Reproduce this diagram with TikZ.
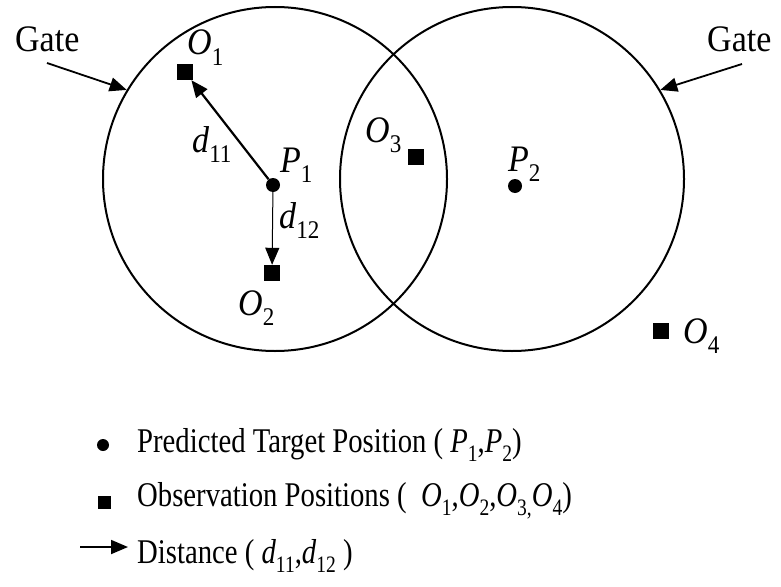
\documentclass[tikz,border=0pt]{standalone}
\usepackage{fontspec}
\setmainfont{Liberation Serif}
\usetikzlibrary{positioning, arrows.meta}
\newcommand{\lowsub}[1]{\raisebox{-0.28em}{\scalebox{0.68}{#1}}}
\newcommand{\sym}[2]{\textit{#1}\lowsub{#2}}
\newcommand{\narrow}[1]{\scalebox{0.87}[1.05]{#1}}
\newcommand{\tall}[1]{\scalebox{1}[1.1]{#1}}

\begin{document}
\begin{tikzpicture}[
    x=1pt, y=-1pt,
    >={Triangle[length=17pt, width=14pt]},
    gate/.style={draw, circle, line width=2pt, minimum size=344pt, inner sep=0pt},
    predDot/.style={fill, circle, minimum size=14pt, inner sep=0pt},
    obsBox/.style={fill, rectangle, minimum size=16pt, inner sep=0pt},
    symLabel/.style={anchor=base west, inner sep=0pt, font=\fontsize{34}{40}\selectfont},
    legendText/.style={anchor=base west, inner sep=0pt, font=\fontsize{33}{40}\selectfont}
]
\useasboundingbox (0,0) rectangle (781,586);

% the two gates
\node[gate] (leftGate) at (275,179) {};
\node[gate] (rightGate) at (512,179) {};

% predicted positions and observations
\node[predDot] (p1) at (273,185) {};
\node[predDot] (p2) at (515,186) {};
\node[obsBox] (o1) at (185,72) {};
\node[obsBox] (o2) at (272,273) {};
\node[obsBox] (o3) at (416,157) {};
\node[obsBox] (o4) at (661,331) {};

\node[symLabel] (o1Text) at (187,55) {\tall{\sym{O}{1}}};
\node[symLabel] (o2Text) at (238,315) {\tall{\sym{O}{2}}};
\node[symLabel] (o3Text) at (365,142) {\tall{\sym{O}{3}}};
\node[symLabel] (o4Text) at (683,343) {\tall{\sym{O}{4}}};
\node[symLabel] (p1Text) at (280,172) {\tall{\sym{P}{1}}};
\node[symLabel] (p2Text) at (508,171) {\tall{\sym{P}{2}}};
\node[symLabel] (d11Text) at (192,152) {\tall{\sym{d}{11}}};
\node[symLabel] (d12Text) at (279,228) {\tall{\sym{d}{12}}};

\draw[->, line width=2.2pt] (p1) -- (o1);
\draw[->, line width=1pt] (p1) -- (o2);

% gate labels
\node[symLabel] (gateL) at (15,52) {\tall{Gate}};
\node[symLabel] (gateR) at (707,52) {\tall{Gate}};
\coordinate (gateTailL) at (47,63);
\coordinate (gateTailR) at (742,64);
\draw[->, line width=1.8pt] (gateTailL) -- (leftGate.149);
\draw[->, line width=1.8pt] (gateTailR) -- (rightGate.31);

% legend
\node[predDot, minimum size=12pt] (legDot) at (103,445) {};
\node[legendText] (legPred) at (137,452) {\narrow{Predicted Target Position ( \sym{P}{1},\sym{P}{2})}};
\node[obsBox, minimum size=13pt] (legBox) at (104,502) {};
\node[legendText] (legObs) at (137,506) {\narrow{Observation Positions (\ \ \sym{O}{1},\sym{O}{2},\sym{O}{3,}\sym{O}{4})}};
\coordinate (legTail) at (80,547);
\coordinate (legTip) at (128,547);
\draw[->, line width=1.8pt] (legTail) -- (legTip);
\node[legendText] (legDist) at (137,563) {\narrow{Distance ( \sym{d}{11},\sym{d}{12} )}};

\end{tikzpicture}
\end{document}
